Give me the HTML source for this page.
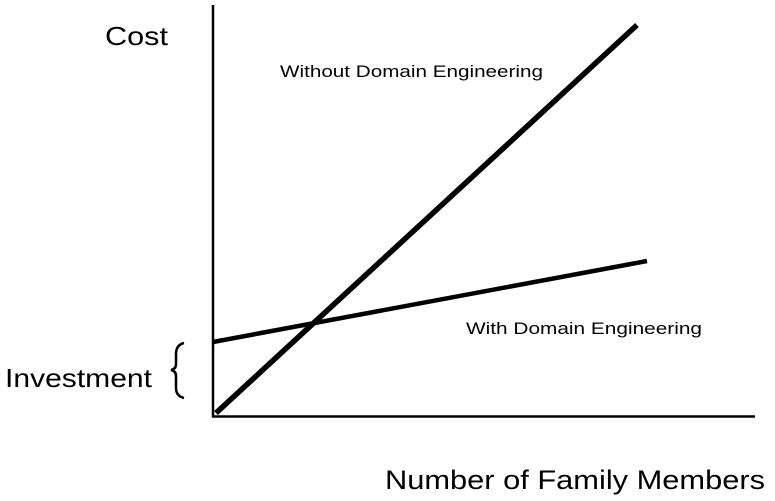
<!DOCTYPE html>
<html><head><style>
html,body{margin:0;padding:0;background:#fff;}
body{width:775px;height:496px;overflow:hidden;}
</style></head><body>
<svg width="775" height="496" viewBox="0 0 775 496" xmlns="http://www.w3.org/2000/svg" font-family="Liberation Sans, Arial, sans-serif">
<rect width="775" height="496" fill="#fff"/>
<line x1="213" y1="5" x2="213" y2="417" stroke="#000" stroke-width="2.5"/>
<line x1="212" y1="416.5" x2="755" y2="416.5" stroke="#000" stroke-width="2.5"/>
<line x1="216" y1="413" x2="637" y2="25" stroke="#000" stroke-width="5.5"/>
<line x1="213" y1="342" x2="647" y2="261" stroke="#000" stroke-width="4.5"/>
<text x="105" y="45" font-size="26" textLength="63" lengthAdjust="spacingAndGlyphs">Cost</text>
<text x="280" y="77" font-size="17" textLength="263" lengthAdjust="spacingAndGlyphs">Without Domain Engineering</text>
<text x="466" y="334" font-size="17" textLength="236" lengthAdjust="spacingAndGlyphs">With Domain Engineering</text>
<text x="5" y="387" font-size="26" textLength="147" lengthAdjust="spacingAndGlyphs">Investment</text>
<text x="385" y="489" font-size="27" textLength="380" lengthAdjust="spacingAndGlyphs">Number of Family Members</text>
<path d="M184,343 Q176,345 176,354 L176,364 Q176,369 171,370 Q176,371 176,376 L176,388 Q176,396 184,398" fill="none" stroke="#000" stroke-width="2.5"/>
</svg>
</body></html>
